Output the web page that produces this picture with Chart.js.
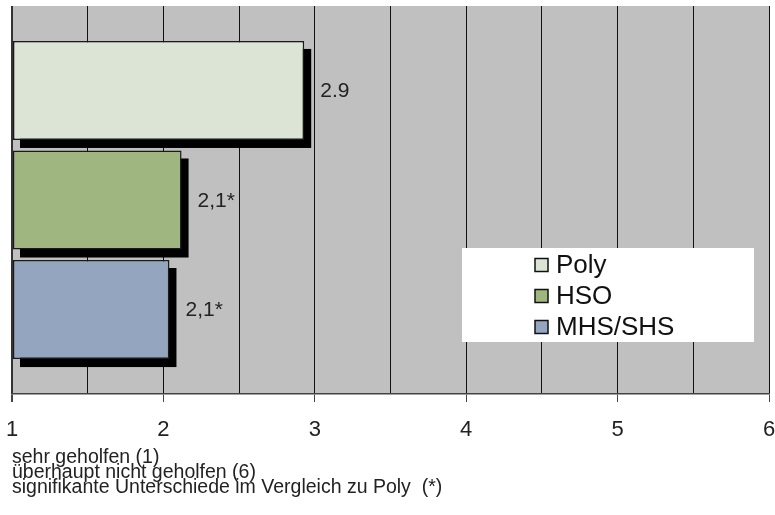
<!DOCTYPE html>
<html>
<head>
<meta charset="utf-8">
<script src="https://cdn.jsdelivr.net/npm/chart.js@4/dist/chart.umd.min.js"></script>
<style>
  body { margin: 0; background: #fff; }
</style>
</head>
<body>
<canvas id="barChart" width="775" height="515"></canvas>
<script>
// data
var groups = ['Poly', 'HSO', 'MHS/SHS'];
var means = [2.93, 2.12, 2.04];
var valueLabels = ['2.9', '2,1*', '2,1*'];
var barColors = ['#dce5d5', '#9fb680', '#94a5bf'];
var scaleMin = 1;
var scaleMax = 6;
var notes = [
    'sehr geholfen (1)',
    'überhaupt nicht geholfen (6)',
    'signifikante Unterschiede im Vergleich zu Poly  (*)'
];

var fontFamily = "'Liberation Sans', Arial, sans-serif";

// grey plot background
var plotBackground = {
    id: 'plotBackground',
    beforeDraw: function (chart) {
        var a = chart.chartArea, ctx = chart.ctx;
        ctx.save();
        ctx.fillStyle = '#c0c0c0';
        ctx.fillRect(a.left, a.top, a.right - a.left, a.bottom - a.top);
        ctx.restore();
    }
};

// hard black drop shadow under the bars, then value labels
var barShadow = {
    id: 'barShadow',
    beforeDatasetsDraw: function (chart) {
        var ctx = chart.ctx;
        ctx.save();
        ctx.fillStyle = '#000';
        chart.data.datasets.forEach(function (ds, i) {
            var p = chart.getDatasetMeta(i).data[0].getProps(['x', 'y', 'base', 'height']);
            var left = Math.min(p.base, p.x), right = Math.max(p.base, p.x);
            ctx.fillRect(left + 7, p.y - p.height / 2 + 8, right - left, p.height);
        });
        ctx.restore();
    },
    afterDatasetsDraw: function (chart) {
        var ctx = chart.ctx;
        ctx.save();
        ctx.font = '21px ' + fontFamily;
        ctx.fillStyle = '#222';
        ctx.textAlign = 'left';
        ctx.textBaseline = 'middle';
        chart.data.datasets.forEach(function (ds, i) {
            var bar = chart.getDatasetMeta(i).data[0];
            ctx.fillText(valueLabels[i], bar.x + 16, bar.y + 1);
        });
        ctx.restore();
    }
};

// legend in a white box inside the plot
var boxLegend = {
    id: 'boxLegend',
    afterDraw: function (chart) {
        var ctx = chart.ctx;
        ctx.save();
        ctx.fillStyle = '#fff';
        ctx.fillRect(462, 248, 292, 94);
        ctx.font = '26px ' + fontFamily;
        ctx.textBaseline = 'middle';
        ctx.textAlign = 'left';
        chart.data.datasets.forEach(function (ds, i) {
            var cy = 265 + i * 31;
            ctx.fillStyle = ds.backgroundColor;
            ctx.fillRect(535, cy - 6.5, 13, 13);
            ctx.lineWidth = 1.5;
            ctx.strokeStyle = '#111';
            ctx.strokeRect(535, cy - 6.5, 13, 13);
            ctx.fillStyle = '#111';
            ctx.fillText(ds.label, 556, cy + 1);
        });
        ctx.restore();
    }
};

var ctx = document.getElementById('barChart').getContext('2d');
var chart = new Chart(ctx, {
    type: 'bar',
    data: {
        labels: [''],
        datasets: groups.map(function (g, i) {
            return {
                label: g,
                data: [means[i]],
                base: scaleMin,
                backgroundColor: barColors[i],
                borderColor: '#1a1a1a',
                borderWidth: 1.5,
                borderSkipped: false,
                categoryPercentage: 0.847,
                barPercentage: 0.904
            };
        })
    },
    options: {
        indexAxis: 'y',
        responsive: false,
        animation: false,
        layout: {
            padding: { left: 12, right: 6, top: 6, bottom: 0 }
        },
        scales: {
            x: {
                min: scaleMin,
                max: scaleMax,
                afterFit: function (scale) {
                    scale.paddingLeft = 0;
                    scale.paddingRight = 0;
                },
                ticks: {
                    stepSize: 0.5,
                    padding: 15,
                    color: '#222',
                    font: { family: fontFamily, size: 22 },
                    callback: function (v) {
                        return Number.isInteger(v) ? String(v) : '';
                    }
                },
                grid: {
                    color: function (c) {
                        return c.tick && c.tick.value === scaleMin ? '#333' : '#111';
                    },
                    lineWidth: function (c) {
                        return c.tick && c.tick.value === scaleMin ? 2 : 1;
                    },
                    tickLength: 8,
                    tickColor: function (c) {
                        return c.tick && Number.isInteger(c.tick.value) ? '#444' : 'rgba(0,0,0,0)';
                    }
                },
                border: { color: '#444', width: 1.5 }
            },
            y: {
                display: false
            }
        },
        plugins: {
            legend: { display: false },
            tooltip: { enabled: false },
            title: {
                display: true,
                position: 'bottom',
                align: 'start',
                text: notes,
                color: '#222',
                font: { family: fontFamily, size: 19.5, weight: 'normal', lineHeight: '15px' },
                padding: { top: -8.4, bottom: 20 }
            }
        }
    },
    plugins: [plotBackground, barShadow, boxLegend]
});
</script>
</body>
</html>
